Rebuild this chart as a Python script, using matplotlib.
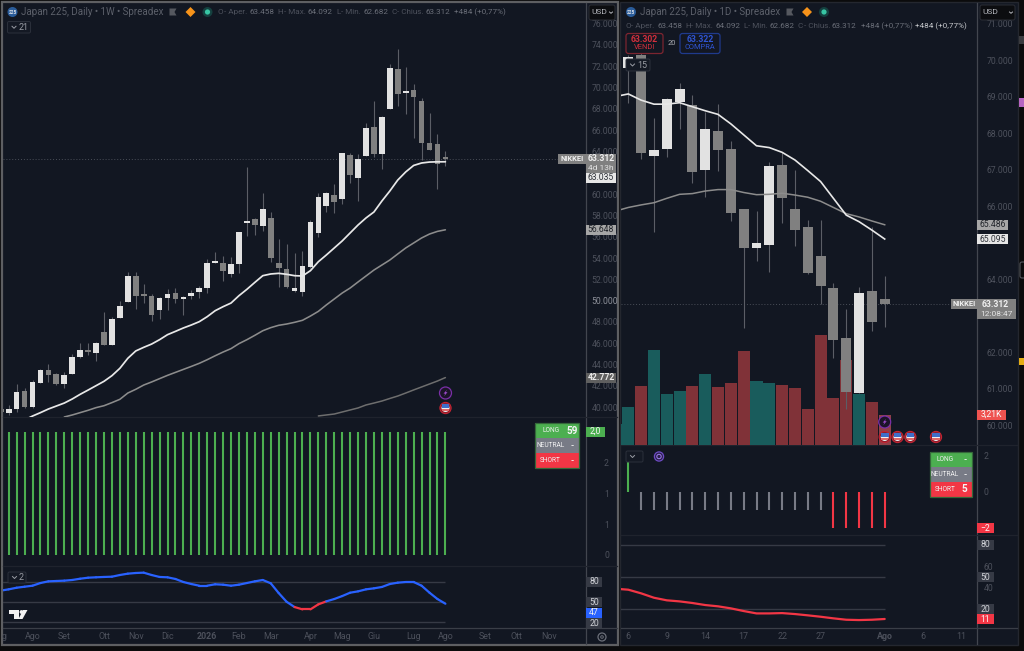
import numpy as np
import matplotlib
matplotlib.use('Agg')
import matplotlib.pyplot as plt
from matplotlib.patches import Rectangle, Circle, Polygon, FancyBboxPatch

plt.rcParams['font.family'] = ['Roboto', 'DejaVu Sans']

W, H = 1024, 651
BG = '#121722'
DIM = '#4d515c'
MID = '#6a6e78'
SEP = '#1f232d'
UP = '#e2e2e2'
DOWN = '#808080'
WICK = '#5b5e66'
GREEN = '#4caf50'
RED = '#f23645'
BLUE = '#2962ff'

# weekly chart, first entry is the cut off week at the left edge
wk_open = [39.79, 39.48, 39.79, 41.54, 39.98, 42.29, 43.48, 43.11, 42.20, 43.14, 44.73, 45.33, 45.11, 47.08, 45.83, 48.33,
           49.84, 52.34, 50.65, 50.46, 49.09, 50.27, 50.68, 50.18, 50.43, 50.78, 51.18, 53.53, 53.50, 52.47, 53.44, 57.29,
           57.63, 57.04, 57.79, 53.56, 52.93, 50.90, 50.78, 53.19, 56.35, 58.88, 59.92, 59.51, 63.64, 61.54, 63.58, 66.30,
           63.77, 67.96, 71.75, 69.49, 69.77, 68.77, 64.83, 64.68, 63.458]
wk_close = [39.51, 39.79, 41.42, 40.04, 42.39, 43.48, 43.05, 42.14, 42.98, 44.70, 45.33, 45.17, 46.05, 45.83, 48.24, 49.52,
            52.28, 50.46, 50.43, 48.65, 50.27, 50.65, 50.15, 50.37, 50.71, 51.15, 53.53, 53.75, 52.78, 53.44, 56.47, 57.51,
            57.10, 58.60, 54.00, 53.09, 51.28, 51.18, 53.25, 57.41, 59.73, 60.08, 59.23, 63.83, 61.79, 63.27, 66.18, 63.79,
            67.27, 71.84, 69.43, 69.68, 69.15, 64.83, 64.14, 62.80, 63.312]
wk_high = [40.04, 40.20, 42.17, 41.76, 42.54, 43.58, 44.02, 43.23, 43.33, 44.99, 45.99, 45.99, 46.15, 48.96, 48.49, 49.99,
           52.65, 52.65, 51.56, 50.59, 50.37, 51.06, 51.15, 50.43, 50.99, 51.37, 53.87, 54.56, 54.19, 54.12, 56.47, 62.58,
           57.72, 60.07, 58.35, 55.78, 55.31, 54.44, 54.66, 57.57, 60.10, 60.23, 60.95, 63.86, 63.83, 63.77, 66.65, 68.74,
           67.36, 72.19, 73.62, 71.96, 70.34, 69.00, 67.59, 65.61, 64.092]
wk_low = [39.41, 39.26, 39.57, 39.88, 39.88, 42.23, 42.39, 42.07, 41.76, 43.11, 44.58, 44.89, 44.36, 45.83, 45.83, 48.33,
          49.84, 49.18, 49.74, 48.05, 48.27, 49.12, 49.74, 48.68, 50.15, 50.21, 50.75, 53.50, 51.87, 52.18, 52.62, 56.10,
          56.16, 56.53, 53.66, 51.25, 51.15, 50.84, 50.43, 53.03, 55.97, 58.32, 58.23, 59.07, 61.01, 59.35, 63.58, 63.51,
          62.36, 67.96, 68.27, 67.49, 65.24, 63.20, 64.14, 60.48, 62.682]
wk_ma_fast = [38.04, 38.41, 38.79, 39.16, 39.48, 39.82, 40.10, 40.38, 40.76, 41.20, 41.60, 42.01, 42.42, 42.95, 43.64, 44.58,
              45.27, 45.61, 45.92, 46.33, 46.80, 47.11, 47.43, 47.71, 48.02, 48.49, 49.05, 49.43, 49.77, 50.46, 51.06, 51.71,
              52.34, 52.50, 52.56, 52.47, 52.34, 52.31, 52.81, 53.65, 54.28, 54.94, 55.60, 56.35, 57.10, 57.76, 58.32, 59.35,
              60.29, 61.32, 62.08, 62.69, 62.92, 63.01, 63.03, 63.035]
wk_ma_mid = [39.07, 39.26, 39.48, 39.70, 39.95, 40.13, 40.42, 40.73, 41.32, 41.67, 42.07, 42.36, 42.67, 42.98, 43.26, 43.54,
             43.82, 44.11, 44.45, 44.82, 45.17, 45.49, 45.96, 46.33, 46.74, 47.17, 47.46, 47.68, 47.80, 47.96, 48.15, 48.55,
             48.99, 49.59, 50.15, 50.71, 51.18, 51.75, 52.31, 52.87, 53.34, 53.81, 54.38, 54.94, 55.41, 55.88, 56.25, 56.50,
             56.648]
wk_ma_slow = [39.17, 39.26, 39.35, 39.54, 39.73, 39.92, 40.20, 40.38, 40.57, 40.81, 41.04, 41.32, 41.61, 41.89, 42.17, 42.45,
              42.772]
wk_signal = [2.0] * 56
wk_rsi = [68.9, 71.3, 72.8, 74.3, 78.3, 80.8, 81.3, 81.8, 82.8, 84.7, 86.2, 86.8, 87.3, 87.7, 90.2, 92.2, 93.2, 93.7, 90.2,
          87.3, 86.8, 84.3, 79.8, 76.8, 74.3, 74.3, 76.4, 75.8, 74.3, 75.8, 78.3, 80.8, 82.8, 77.9, 63.4, 50.4, 42.6, 39.1,
          39.1, 46.6, 51.0, 54.5, 58.9, 63.9, 65.9, 68.9, 70.4, 72.4, 76.8, 78.8, 79.8, 79.8, 74.3, 63.9, 54.5, 47.5]
wk_rsi_red = [36, 37, 38, 39]  # weeks where the line turns red
wk_ticks = [-0.6, 3, 7, 12, 16, 20, 25, 29, 33, 38, 42, 46, 51, 55, 60, 64, 68]
wk_tick_labels = ['g', 'Ago', 'Set', 'Ott', 'Nov', 'Dic', '2026', 'Feb', 'Mar', 'Apr', 'Mag', 'Giu', 'Lug', 'Ago', 'Set', 'Ott', 'Nov']
wk_price_ticks = [76, 74, 72, 70, 68, 66, 64, 60, 58, 56, 54, 52, 50, 48, 46, 44, 42, 40]

# daily chart
d_open = [69.77, 70.14, 67.38, 67.56, 68.85, 68.76, 66.99, 68.05, 67.57, 65.92, 64.86, 64.93, 67.11, 65.92, 65.42, 64.64, 63.74, 62.37, 60.89, 63.67, 63.458]
d_close = [70.09, 67.44, 67.53, 68.92, 69.21, 66.94, 68.10, 67.53, 65.80, 64.86, 65.00, 67.10, 66.23, 65.34, 64.17, 63.80, 62.32, 60.91, 63.61, 62.81, 63.312]
d_high = [70.14, 70.18, 68.42, 68.95, 69.36, 69.05, 68.58, 68.79, 67.78, 65.92, 65.86, 67.20, 67.49, 66.99, 65.62, 65.62, 63.88, 63.18, 63.79, 65.43, 64.092]
d_low = [68.81, 67.28, 65.30, 67.33, 68.11, 66.62, 66.24, 66.97, 65.60, 62.67, 64.49, 64.20, 65.54, 64.91, 64.14, 63.31, 61.84, 60.44, 60.89, 62.58, 62.682]
d_ma_fast = [69.00, 69.07, 68.90, 68.79, 68.79, 68.83, 68.72, 68.61, 68.51, 68.25, 67.95, 67.65, 67.60, 67.47, 67.26, 66.97, 66.67, 66.21, 65.75, 65.57, 65.34, 65.095]
d_ma_mid = [65.86, 65.96, 66.03, 66.09, 66.21, 66.32, 66.34, 66.41, 66.45, 66.45, 66.37, 66.31, 66.32, 66.35, 66.30, 66.24, 66.13, 65.96, 65.79, 65.70, 65.59, 65.486]
d_volume = [2.27, 4.05, 6.18, 9.94, 5.41, 5.65, 6.25, 7.50, 6.07, 6.56, 9.87, 6.73, 6.52, 6.35, 5.97, 3.77, 11.51, 4.99, 8.93, 5.41, 4.57, 3.21]
d_volume_up = [1, 1, 0, 1, 1, 1, 0, 1, 0, 0, 0, 1, 1, 0, 0, 0, 0, 0, 0, 1, 0, 0]
d_signal = [2, -1, -1, -1, -1, -1, -1, -1, -1, -1, -1, -1, -1, -1, -1, -1, -2, -2, -2, -2, -2]
d_rsi = [39.1, 38.2, 34.8, 30.7, 28.3, 27.3, 25.8, 23.9, 22.7, 20.8, 18.3, 16.1, 16.1, 16.4, 15.5, 14.3, 13.0, 11.5, 10.2, 9.9, 10.2, 10.9]
d_ticks = [0, 3, 6, 9, 12, 15, 20, 23, 26]
d_tick_labels = ['6', '9', '14', '17', '22', '27', 'Ago', '6', '11']
d_price_ticks = [71, 70, 69, 68, 67, 66, 64, 62, 61, 60]

fig = plt.figure(figsize=(W / 100, H / 100), dpi=100, facecolor='#0b0b0c')


def full_axes(z):
    a = fig.add_axes([0, 0, 1, 1], zorder=z)
    a.set_xlim(0, W)
    a.set_ylim(H, 0)
    a.axis('off')
    return a


back = full_axes(0)
ui = full_axes(10)


def pane(x0, y0, x1, y1, first_px, step, lo_px_val, z=2):
    # lo_px_val is (value at y0, value at y1)
    a = fig.add_axes([x0 / W, 1 - y1 / H, (x1 - x0) / W, (y1 - y0) / H], zorder=z)
    a.patch.set_alpha(0)
    a.set_xlim((x0 - first_px) / step, (x1 - first_px) / step)
    a.set_ylim(lo_px_val[1], lo_px_val[0])
    for s in a.spines.values():
        s.set_visible(False)
    a.tick_params(length=0)
    a.set_xticks([])
    a.yaxis.tick_right()
    a.set_yticks([])
    return a


def py(a, v):
    return ui.transData.inverted().transform(a.transData.transform((0, v)))[1]


def px(a, i):
    return ui.transData.inverted().transform(a.transData.transform((i, 0)))[0]


def candles(a, x, o, h, l, c, width):
    o, h, l, c = map(np.array, (o, h, l, c))
    up = c >= o
    a.vlines(x, l, h, color=WICK, lw=0.8, zorder=2)
    a.bar(x, np.maximum(np.abs(c - o), 0.05), bottom=np.minimum(o, c), width=width,
          color=[UP if u else DOWN for u in up], zorder=3)


def y_labels(a, ticks, labels, pad=4):
    a.set_yticks(ticks)
    a.set_yticklabels(labels, fontsize=6.2, color=DIM)
    a.tick_params(axis='y', pad=pad)


def x_labels(a, ticks, labels, y_px, bold=()):
    for t, s in zip(ticks, labels):
        w = 'bold' if s in bold else 'normal'
        ui.text(px(a, t), y_px, s, color=DIM, fontsize=6.4, ha='center', va='center', fontweight=w)


def badge(x0, x1, y, text, bg, fg='#e8e8e8', h=10, bold=False, ha='center'):
    ui.add_patch(Rectangle((x0, y - h / 2), x1 - x0, h, color=bg, lw=0))
    tx = (x0 + x1) / 2 if ha == 'center' else x0 + 3
    ui.text(tx, y, text, color=fg, fontsize=6.2, ha=ha, va='center', fontweight='bold' if bold else 'normal')


def flag(x, y):
    ui.add_patch(Circle((x, y), 5.6, fc='#8a1f2a', ec='#c32433', lw=0.8))
    ui.add_patch(Circle((x, y), 4.0, fc='#eef0f4', lw=0))
    ui.add_patch(Rectangle((x - 3.8, y - 3.6), 7.6, 3.2, color='#3f6fc9', lw=0))
    ui.add_patch(Rectangle((x - 3.6, y + 1.4), 7.2, 1.4, color='#e06a6a', lw=0))


def bolt(x, y):
    ui.add_patch(Circle((x, y), 6, fc='#1c1428', ec='#7b2fa8', lw=0.9))
    ui.add_patch(Polygon([[x + 1.5, y - 3.2], [x - 2, y + 0.6], [x - 0.2, y + 0.6], [x - 1.4, y + 3.2], [x + 2, y - 0.8], [x + 0.2, y - 0.8]], color='#a04cd0', lw=0))


def header_icons(xi, xf, xd, xg):
    ui.add_patch(Circle((xi, 12), 5, color='#2a5c9a', lw=0))
    ui.text(xi, 12, '225', color='#d8dde6', fontsize=3.4, ha='center', va='center', fontweight='bold')
    ui.add_patch(Polygon([[xf - 3.5, 8.5], [xf + 3.5, 8.5], [xf + 1.5, 12], [xf + 3.5, 15.5], [xf - 3.5, 15.5]], color='#55585f', lw=0))
    ui.add_patch(Polygon([[xd, 7], [xd + 5, 12], [xd, 17], [xd - 5, 12]], color='#f7931a', lw=0))
    ui.add_patch(Circle((xg, 12), 5, color='#15403f', lw=0))
    ui.add_patch(Circle((xg, 12), 2.6, color='#38c6a4', lw=0))


def ohlc_line(y, parts):
    for x, s, c, fs in parts:
        ui.text(x, y, s, color=c, fontsize=fs, ha='left', va='center')


def table(x0, y0, x1, long_v, neutral_v, short_v):
    rows = [('LONG', long_v, GREEN), ('NEUTRAL', neutral_v, '#787b86'), ('SHORT', short_v, RED)]
    rh = 15.1
    for k, (name, val, col) in enumerate(rows):
        ui.add_patch(Rectangle((x0, y0 + k * rh), x1 - x0, rh, color=col, lw=0))
        ui.text(x0 + (x1 - x0) * 0.36, y0 + (k + 0.5) * rh, name, color='#f0f0f0', fontsize=4.8, ha='center', va='center')
        ui.text(x1 - 7, y0 + (k + 0.5) * rh, val, color='#f4f4f4', fontsize=7.2 if val != '-' else 6, ha='center', va='center', fontweight='bold')
    ui.add_patch(Rectangle((x0, y0), x1 - x0, rh * 3, fc='none', ec='#35683a', lw=0.9))


def tag(x0, y0, x1, y1, text):
    ui.add_patch(FancyBboxPatch((x0, y0), x1 - x0, y1 - y0, boxstyle='round,pad=0,rounding_size=1.5', fc='#141924', ec='#2b303b', lw=0.7))
    ui.plot([x0 + 4.5, x0 + 6.5, x0 + 8.5], [(y0 + y1) / 2 - 1, (y0 + y1) / 2 + 1, (y0 + y1) / 2 - 1], color='#9a9da5', lw=0.7)
    if text:
        ui.text(x0 + 11, (y0 + y1) / 2, text, color='#9a9da5', fontsize=6.4, ha='left', va='center')


def usd(x0, x1):
    ui.add_patch(FancyBboxPatch((x0, 5), x1 - x0, 15, boxstyle='round,pad=0,rounding_size=2', fc='#0c0d10', ec='#2b2e36', lw=0.7))
    ui.text(x0 + 2.5, 12.5, 'USD', color='#b4b6bc', fontsize=6.0, ha='left', va='center')
    ui.plot([x1 - 5.5, x1 - 4, x1 - 2.5], [12, 13.3, 12], color='#b4b6bc', lw=0.7)


# panel backgrounds and borders
back.add_patch(Rectangle((2, 2), 616, 643, fc=BG, ec='#5e5f62', lw=1.6))
back.add_patch(Rectangle((620, 2), 398, 643, fc=BG, ec='#24272f', lw=1))
back.plot([586, 586], [3, 644], color='#42464f', lw=0.9)
back.plot([977.3, 977.3], [3, 644], color='#42464f', lw=0.9)
for y_sep in (416.5, 566, 627.8):
    back.plot([3, 617], [y_sep, y_sep], color=SEP if y_sep != 627.8 else '#3a3e47', lw=0.9)
for y_sep in (445.3, 535.3, 628):
    back.plot([621, 1017], [y_sep, y_sep], color=SEP if y_sep != 628 else '#3a3e47', lw=0.9)

# sidebar marks at the far right
back.add_patch(Rectangle((1019, 36), 5, 8, color='#3a3b3f', lw=0))
back.add_patch(Rectangle((1019, 98), 5, 9, color='#b765c2', lw=0))
back.add_patch(Rectangle((1019, 358), 5, 7, color='#e5ad14', lw=0))
back.add_patch(FancyBboxPatch((1020, 262), 6, 16, boxstyle='round,pad=0,rounding_size=2', fc='none', ec='#55585f', lw=0.8))

# ---- left chart, weekly ----
step_w = 7.94
first_w = 8.7
ax_w = pane(3, 3, 586, 416.5, first_w, step_w, (74 + 42 / 10.65, 74 - 371.5 / 10.65))
x_w = np.arange(-1, 56)
candles(ax_w, x_w, wk_open, wk_high, wk_low, wk_close, 0.72)
ax_w.axhline(wk_close[-1], color='#4a4e58', lw=0.7, ls=(0, (1, 2)), zorder=1)
for series, col, lw in [(wk_ma_slow, '#6e6e6e', 1.1), (wk_ma_mid, '#8c8c8c', 1.15), (wk_ma_fast, '#e8e8e8', 1.25)]:
    ax_w.plot(np.arange(56 - len(series), 56), series, color=col, lw=lw, zorder=4, solid_capstyle='round')
y_labels(ax_w, [t * 1.0 for t in wk_price_ticks], ['%d.000' % t for t in wk_price_ticks])
for t_lab in ax_w.get_yticklabels():
    if t_lab.get_text() == '50.000':
        t_lab.set_color('#8d9099')
ax_w.set_ylim(74 - 371.5 / 10.65, 74 + 42 / 10.65)

ax_ws = pane(3, 416.5, 586, 566, first_w, step_w, (2.244, -0.179))
ax_ws.vlines(np.arange(56), 0, wk_signal, color=GREEN, lw=1.5)
y_labels(ax_ws, [1.5, 1, 0.5, 0], ['2', '1', '1', '0'], pad=13)

ax_wr = pane(3, 566, 586, 627.8, first_w, step_w, (103.6, 11.7))
for lvl in (80, 50, 20):
    ax_wr.hlines(lvl, -1.1, 55, color='#363a45', lw=1)
rsi_x = np.arange(56)
for k in range(55):
    col = RED if k in wk_rsi_red else BLUE
    ax_wr.plot(rsi_x[k:k + 2], wk_rsi[k:k + 2], color=col, lw=1.6, solid_capstyle='round')
ax_wr.plot([-1, 0], [67, wk_rsi[0]], color=BLUE, lw=1.6, solid_capstyle='round')
x_labels(ax_wr, wk_ticks, wk_tick_labels, 636.5, bold=('2026',))

# left badges
yc = py(ax_w, wk_close[-1])
ui.add_patch(Rectangle((558, yc - 5), 28, 10, color=DOWN, lw=0))
ui.text(572, yc, 'NIKKEI', color='#f0f0f0', fontsize=5.4, ha='center', va='center', fontweight='bold')
ui.add_patch(Rectangle((586, yc - 5), 30, 20, color=DOWN, lw=0))
ui.text(601, yc, '63.312', color='#f0f0f0', fontsize=6.2, ha='center', va='center', fontweight='bold')
ui.text(601, yc + 9.5, '4d 13h', color='#e4e4e4', fontsize=6.0, ha='center', va='center')
badge(586, 616, py(ax_w, wk_ma_fast[-1]) + 16.5 - 0.3, '63.035', '#e6e6e6', '#30333a')
badge(586, 616, py(ax_w, wk_ma_mid[-1]), '56.648', '#a6a6a6', '#22252b')
badge(586, 616, py(ax_w, wk_ma_slow[-1]), '42.772', '#5f5f5f', '#e8e8e8', bold=True)
badge(586, 604.5, py(ax_ws, 2.0), '2,0', GREEN, '#f4f4f4')
for lvl, s in [(80, '80'), (50, '50'), (20, '20')]:
    badge(586, 602, py(ax_wr, lvl) + (1 if lvl == 20 else 0), s, '#363a45', '#cfd1d6')
badge(586, 602, py(ax_wr, wk_rsi[-1]) + 8.8, '47', BLUE, '#f0f0f0')
ui.add_patch(Circle((602, 637), 4, fc='none', ec='#6a6e78', lw=0.9))
ui.add_patch(Circle((602, 637), 1.3, fc='none', ec='#6a6e78', lw=0.7))
table(534.5, 423, 579.3, '59', '-', '-')
flag(445.5, 408)
bolt(445.5, 393)
tag(7.5, 21.5, 30.5, 33, '21')
tag(8, 572, 26, 583, '2')
# tradingview mark
ui.add_patch(Polygon([[9, 610], [19, 610], [19, 619], [14, 619], [14, 614], [9, 614]], color='#f2f2f2', lw=0))
ui.add_patch(Circle((21.5, 612), 1.9, color='#f2f2f2', lw=0))
ui.add_patch(Polygon([[23, 610], [27.5, 610], [22.5, 619], [18.5, 619]], color='#f2f2f2', lw=0))

header_icons(12.5, 173, 190.5, 207.5)
ui.text(21, 12, 'Japan 225, Daily • 1W • Spreadex', color='#5c606a', fontsize=7.0, ha='left', va='center')
ohlc_line(12, [(218, 'O', DIM, 5.9), (224, '- Aper.', DIM, 5.9), (249.5, '63.458', MID, 5.9), (277.5, 'H', DIM, 5.9), (284, '- Max.', DIM, 5.9),
               (308, '64.092', MID, 5.9), (336, 'L', DIM, 5.9), (341, '- Min.', DIM, 5.9), (363, '62.682', MID, 5.9), (391, 'C', DIM, 5.9), (397, '- Chius.', DIM, 5.9),
               (426, '63.312', MID, 5.9), (453.5, '+484 (+0,77%)', MID, 5.9)])
usd(589, 615)

# ---- right chart, daily ----
step_d = 12.82
first_d = 628.3
ax_v = pane(621, 3, 977, 445.3, first_d, step_d, (442.3 / 9.55, 0), z=2)
x_dv = np.arange(-1, 21)
vol_cols = ['#195c5c' if u else '#803238' for u in d_volume_up]
vol_cols[-1] = '#8f4048'
ax_v.bar(x_dv, d_volume, width=0.94, color=vol_cols)

ax_d = pane(621, 3, 977, 445.3, first_d, step_d, (70 + 57 / 36.5, 70 - 385.3 / 36.5), z=3)
x_d = np.arange(21)
candles(ax_d, x_d, d_open, d_high, d_low, d_close, 0.78)
ax_d.axhline(d_close[-1], color='#4a4e58', lw=0.7, ls=(0, (1, 2)), zorder=1)
ax_d.plot(np.arange(-1, 21), d_ma_mid, color='#8c8c8c', lw=1.1, zorder=4)
ax_d.plot(np.arange(-1, 21), d_ma_fast, color='#e8e8e8', lw=1.2, zorder=4)
y_labels(ax_d, [t * 1.0 for t in d_price_ticks], ['%d.000' % t for t in d_price_ticks], pad=7)
ax_d.set_ylim(70 - 385.3 / 36.5, 70 + 57 / 36.5)

ax_ds = pane(621, 445.3, 977, 535.3, first_d, step_d, (2.55, -2.38))
sig_cols = [GREEN if s > 0 else ('#787b86' if s == -1 else RED) for s in d_signal]
ax_ds.vlines(x_d, 0, d_signal, colors=sig_cols, lw=1.5)
y_labels(ax_ds, [2, 0], ['2', '0'], pad=5)

ax_dr = pane(621, 535.3, 977, 628, first_d, step_d, (88.9, 2.5))
for lvl in (80, 50, 20):
    ax_dr.hlines(lvl, -1, 20, color='#363a45', lw=1)
ax_dr.plot(np.arange(-1, 21), d_rsi, color=RED, lw=1.6, solid_capstyle='round')
y_labels(ax_dr, [60, 40], ['60', '40'], pad=5)
x_labels(ax_dr, d_ticks, d_tick_labels, 636.7, bold=('Ago',))

# right badges
yc = py(ax_d, d_close[-1])
ui.add_patch(Rectangle((951, yc - 5), 26, 10, color=DOWN, lw=0))
ui.text(964, yc, 'NIKKEI', color='#f0f0f0', fontsize=5.4, ha='center', va='center', fontweight='bold')
ui.add_patch(Rectangle((977, yc - 5), 38.5, 19.5, color=DOWN, lw=0))
ui.text(995, yc, '63.312', color='#f0f0f0', fontsize=6.2, ha='center', va='center', fontweight='bold')
ui.text(996, yc + 9.5, '12:08:47', color='#e4e4e4', fontsize=6.0, ha='center', va='center')
badge(977, 1008, py(ax_d, d_ma_mid[-1]), '65.486', '#a6a6a6', '#22252b')
badge(977, 1008, py(ax_d, d_ma_fast[-1]), '65.095', '#e6e6e6', '#30333a')
badge(977, 1006, py(ax_v, d_volume[-1]), '3,21K', '#ef5350', '#f8f8f8')
badge(977, 994, py(ax_ds, -2), '\u22122', RED, '#f8f8f8')
for lvl, s in [(80, '80'), (50, '50'), (20, '20')]:
    badge(977, 993.5, py(ax_dr, lvl), s, '#363a45', '#cfd1d6')
badge(977, 993.5, py(ax_dr, d_rsi[-1]) + 0.5, '11', RED, '#f8f8f8')
table(930, 451.7, 971.7, '-', '-', '5')
bolt(884.7, 422)
for i_flag in (20, 21, 22, 24):
    flag(px(ax_d, i_flag), 437)
tag(626, 59, 650, 71, '15')
tag(626, 451, 643, 462, '')
ui.add_patch(Circle((659, 456.5), 4.6, fc='#2a1f4a', ec='#6d4bc4', lw=0.9))
ui.add_patch(Circle((659, 456.5), 2.2, fc='none', ec='#a080f0', lw=0.7))

header_icons(631, 790, 807, 824)
ui.text(640, 12, 'Japan 225, Daily • 1D • Spreadex', color='#5c606a', fontsize=7.0, ha='left', va='center')
ohlc_line(26, [(625, 'O', DIM, 5.9), (631, '- Aper.', DIM, 5.9), (657, '63.458', MID, 5.9), (685, 'H', DIM, 5.9), (691, '- Max.', DIM, 5.9),
               (715, '64.092', MID, 5.9), (743, 'L', DIM, 5.9), (748, '- Min.', DIM, 5.9), (770, '62.682', MID, 5.9), (798, 'C', DIM, 5.9), (804, '- Chius.', DIM, 5.9),
               (832, '63.312', MID, 5.9), (861, '+484 (+0,77%)', MID, 5.9), (915, '+484 (+0,77%)', '#c6c8cc', 5.9)])
usd(980, 1015)

for x0, x1, col, val, word in [(626, 663, '#d32f3c', '63.302', 'VENDI'), (680, 720, '#2f55d4', '63.322', 'COMPRA')]:
    ui.add_patch(FancyBboxPatch((x0, 33.5), x1 - x0, 20, boxstyle='round,pad=0,rounding_size=2.5', fc='#131722',
                                ec='#7c2530' if word == 'VENDI' else '#1f3a8c', lw=0.9))
    ui.text((x0 + x1) / 2, 39.5, val, color=col, fontsize=6.2, ha='center', va='center', fontweight='bold')
    ui.text((x0 + x1) / 2, 47.5, word, color=col, fontsize=5.4, ha='center', va='center')
ui.text(672, 43.5, '20', color='#a8aab0', fontsize=5.4, ha='center', va='center')

fig.savefig('out.png', dpi=100, facecolor=fig.get_facecolor())
